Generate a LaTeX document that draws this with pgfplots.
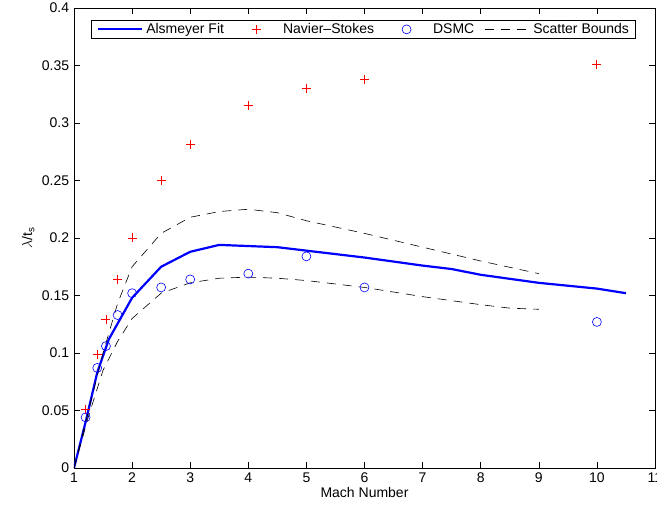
\documentclass[border=0pt]{standalone}
\usepackage{pgfplots}
\pgfplotsset{compat=1.18}
\usepackage{fontspec}
\setmainfont{Liberation Sans}
\pgfplotsset{wideimg/.style={legend image code/.code={\pgfpathrectangle{\pgfpoint{0pt}{-2pt}}{\pgfpoint{44pt}{4pt}}\pgfusepath{use as bounding box}\draw[mark repeat=2,mark phase=2,##1] plot coordinates {(0pt,0pt) (22pt,0pt) (44pt,0pt)};}}}
\begin{document}
\fontsize{14}{16}\selectfont
\begin{tikzpicture}
\begin{axis}[
  scale only axis,
  width=581pt, height=460pt,
  xmin=1, xmax=11, ymin=0, ymax=0.4,
  xtick={1,2,...,11},
  ytick={0,0.05,0.1,0.15,0.2,0.25,0.3,0.35,0.4},
  yticklabels={0,0.05,0.1,0.15,0.2,0.25,0.3,0.35,0.4},
  xticklabels={1,2,3,4,5,6,7,8,9,10,11},
  tick align=inside,
  tick pos=both,
  major tick length=6pt,
  axis line style={line width=0.8pt},
  every tick/.style={line width=0.6pt, black},
  xlabel={Mach Number},
  ylabel={$\lambda$/t\textsubscript{s}},
  xlabel style={yshift=5pt},
  ylabel style={yshift=-2pt},
  tick label style={font=\fontsize{14}{16}\selectfont},
  label style={font=\fontsize{14}{16}\selectfont},
  legend columns=4,
  legend style={at={(rel axis cs:0.967,0.974)}, anchor=north east,
    font=\fontsize{14}{16}\selectfont, draw=black, line width=0.6pt,
    inner xsep=6pt, inner ysep=2.5pt,
    nodes={inner sep=0.5pt},
    /tikz/every odd column/.append style={column sep=4pt},
    /tikz/every even column/.append style={column sep=10pt}},
  legend cell align=left,
]
\addplot[blue, line width=2.2pt, wideimg] coordinates {
(1,0) (1.2,0.04) (1.4,0.083) (1.6,0.112) (2,0.148) (2.5,0.175) (3,0.188) (3.5,0.194)
(4.5,0.192) (5,0.189) (6,0.183) (7,0.176) (7.5,0.173) (8,0.168) (9,0.161) (10,0.156) (10.5,0.152)};
\addlegendentry{Alsmeyer Fit}
\addplot[only marks, wideimg, color=red, mark=+, mark size=4.5pt, line width=0.9pt, mark options={solid, draw=red}] coordinates {
(1.2,0.051) (1.4,0.099) (1.55,0.129) (1.75,0.164) (2,0.2) (2.5,0.25) (3,0.281)
(4,0.315) (5,0.33) (6,0.338) (10,0.351)};
\addlegendentry{Navier--Stokes}
\addplot[only marks, wideimg, color=blue, mark=o, mark size=4.5pt, line width=0.6pt, mark options={solid, draw=blue}] coordinates {
(1.2,0.044) (1.4,0.087) (1.55,0.106) (1.75,0.133) (2,0.152) (2.5,0.157) (3,0.164)
(4,0.169) (5,0.184) (6,0.157) (10,0.127)};
\addlegendentry{DSMC}
\addplot[black, wideimg, line width=0.6pt, dash pattern=on 9pt off 7pt] coordinates {
(1,0) (1.25,0.05) (1.5,0.1) (1.75,0.143) (2,0.175) (2.5,0.204) (3,0.218) (3.5,0.223)
(4,0.225) (4.5,0.222) (5,0.215) (6,0.204) (7,0.192) (8,0.18) (9,0.169)};
\addlegendentry{Scatter Bounds}
\addplot[black, line width=0.6pt, dash pattern=on 9pt off 7pt, forget plot] coordinates {
(1,0) (1.25,0.045) (1.5,0.085) (1.75,0.11) (2,0.13) (2.5,0.152) (3,0.161) (3.5,0.165)
(4,0.166) (4.5,0.165) (5,0.163) (6,0.157) (7,0.149) (8,0.142) (8.5,0.139) (9,0.138)};
\end{axis}
\pgfresetboundingbox
\path ([shift={(-74pt,-44pt)}]current axis.south west) rectangle ([shift={(2pt,8pt)}]current axis.north east);
\end{tikzpicture}
\end{document}
